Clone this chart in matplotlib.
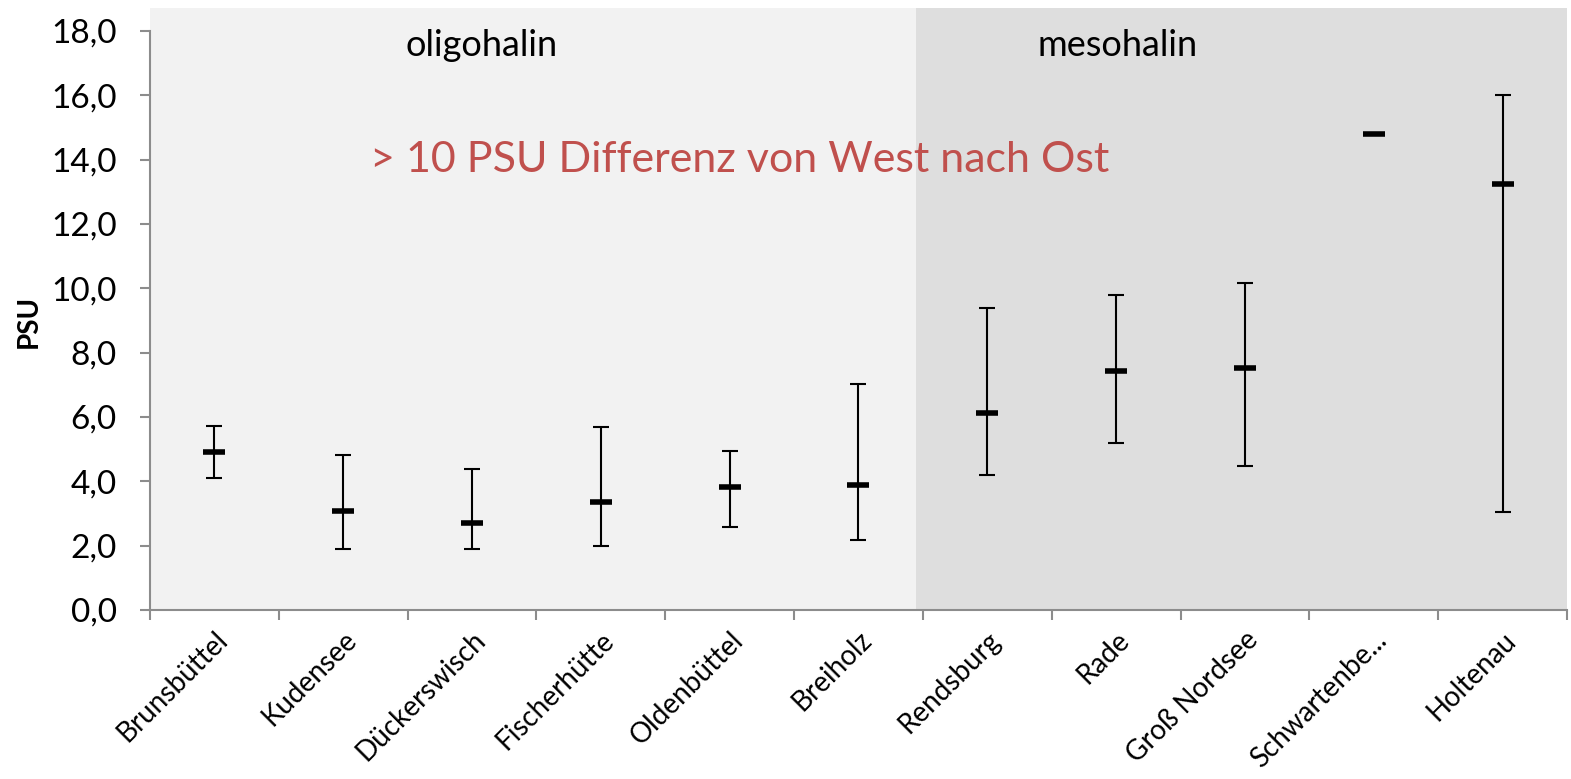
import matplotlib
matplotlib.use("Agg")
import matplotlib.pyplot as plt
import matplotlib.transforms as mtransforms
import numpy as np

stations = ["Brunsbüttel", "Kudensee", "Dückerswisch", "Fischerhütte", "Oldenbüttel",
            "Breiholz", "Rendsburg", "Rade", "Groß Nordsee", "Schwartenbe...", "Holtenau"]
mean_psu = [4.91, 3.07, 2.71, 3.35, 3.81, 3.87, 6.12, 7.43, 7.51, 14.80, 13.23]
upper_psu = [5.71, 4.83, 4.39, 5.70, 4.94, 7.03, 9.40, 9.80, 10.15, np.nan, 16.01]
lower_psu = [4.10, 1.90, 1.90, 2.00, 2.57, 2.19, 4.20, 5.20, 4.47, np.nan, 3.05]
yticks = [0, 2, 4, 6, 8, 10, 12, 14, 16, 18]

plt.rcParams['font.family'] = ['Lato', 'DejaVu Sans']

fig = plt.figure(figsize=(15.71, 7.79), dpi=100)
ax = fig.add_axes([150/1571, 1 - 610/779, (1567-150)/1571, (610-8)/779])

x = np.arange(len(stations))
mean = np.array(mean_psu)
up = np.array(upper_psu)
lo = np.array(lower_psu)

ax.axvspan(-0.5, 5.45, color="#f2f2f2", zorder=0, lw=0)
ax.axvspan(5.45, 10.5, color="#dedede", zorder=0, lw=0)

ax.errorbar(x, mean, yerr=[mean - lo, up - mean], fmt='none', ecolor='black',
            elinewidth=1.5, capsize=6, capthick=1.5, zorder=3)
ax.plot(x, mean, linestyle='none', marker='_', markersize=16, mew=4, color='black', zorder=4)

ax.set_xlim(-0.5, 10.5)
ax.set_ylim(0, 18.71)
ax.set_yticks(yticks)
ax.set_yticklabels([f"{v:.1f}".replace('.', ',') for v in yticks], fontsize=24)
ax.set_xticks(x)
ax.set_xticklabels(stations, rotation=45, ha='right', rotation_mode='anchor',
                   fontsize=20)
offset = mtransforms.ScaledTranslation(3/100, 0, fig.dpi_scale_trans)
for lbl in ax.get_xticklabels():
    lbl.set_transform(lbl.get_transform() + offset)
ax.set_xticks(np.arange(-0.5, 11, 1), minor=True)
ax.tick_params(axis='x', which='major', length=0, pad=12)
ax.tick_params(axis='x', which='minor', length=7, width=1.5, color='#8c8c8c', direction='out')
ax.tick_params(axis='y', length=7, width=1.5, color='#8c8c8c', pad=17)

for s in ['top', 'right']:
    ax.spines[s].set_visible(False)
for s in ['left', 'bottom']:
    ax.spines[s].set_color('#8c8c8c')
    ax.spines[s].set_linewidth(1.5)
ax.spines['left'].set_bounds(0, 18)

ax.set_ylabel("PSU", fontsize=20, fontweight='bold')
ax.yaxis.set_label_coords(-0.0762, 0.48)

ax.text(2.07, 17.56, "oligohalin", ha='center', va='center', fontsize=26)
ax.text(7.01, 17.56, "mesohalin", ha='center', va='center', fontsize=26)
ax.text(1.21, 14.0, "> 10 PSU Differenz von West nach Ost", ha='left', va='center',
        fontsize=31, color='#c0504d')

fig.savefig("out.png", dpi=100)
